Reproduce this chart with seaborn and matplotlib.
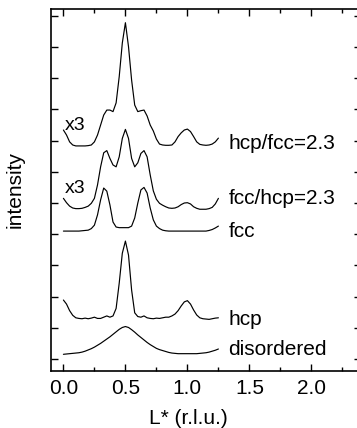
import numpy as np
import pandas as pd
import matplotlib
matplotlib.use("Agg")
import matplotlib.pyplot as plt
import seaborn as sns
from matplotlib.ticker import MultipleLocator, FormatStrFormatter

# L* grid (r.l.u.), 0.025 steps from 0 to 1.25
L = np.round(np.arange(51) * 0.025, 3)

# Stacked, offset intensity profiles (arbitrary units)
hcp_fcc_2p3 = [7.34, 7.18, 6.96, 6.86, 6.83, 6.83, 6.83, 6.83, 6.84, 6.86,
               6.96, 7.18, 7.50, 7.82, 7.98, 7.98, 7.93, 8.21, 9.05, 10.13,
               10.78, 10.01, 8.94, 8.14, 7.93, 7.96, 7.98, 7.79, 7.50, 7.31,
               7.05, 6.89, 6.86, 6.85, 6.85, 6.86, 6.96, 7.13, 7.25, 7.34,
               7.37, 7.29, 7.13, 6.96, 6.88, 6.86, 6.85, 6.86, 6.89, 6.96,
               7.08]
fcc_hcp_2p3 = [5.15, 5.01, 4.90, 4.84, 4.82, 4.82, 4.83, 4.86, 4.90, 4.99,
               5.15, 5.58, 6.16, 6.61, 6.68, 6.43, 6.22, 6.16, 6.48, 7.07,
               7.36, 7.07, 6.43, 6.16, 6.29, 6.59, 6.68, 6.48, 5.90, 5.39,
               5.12, 4.99, 4.93, 4.88, 4.84, 4.83, 4.84, 4.88, 4.95, 5.00,
               5.01, 4.97, 4.88, 4.83, 4.80, 4.80, 4.80, 4.82, 4.86, 4.97,
               5.15]
fcc = [4.10, 4.10, 4.10, 4.10, 4.10, 4.10, 4.11, 4.12, 4.13, 4.18,
       4.29, 4.62, 5.10, 5.48, 5.38, 4.94, 4.39, 4.23, 4.21, 4.21,
       4.21, 4.21, 4.26, 4.52, 5.00, 5.42, 5.50, 5.32, 4.84, 4.46,
       4.26, 4.18, 4.13, 4.11, 4.10, 4.10, 4.10, 4.10, 4.10, 4.10,
       4.10, 4.10, 4.10, 4.10, 4.10, 4.10, 4.10, 4.12, 4.15, 4.20,
       4.26]
hcp = [1.89, 1.76, 1.55, 1.40, 1.32, 1.30, 1.29, 1.31, 1.29, 1.31,
       1.34, 1.30, 1.30, 1.34, 1.38, 1.34, 1.38, 1.62, 2.43, 3.39,
       3.78, 3.33, 2.21, 1.48, 1.36, 1.34, 1.38, 1.32, 1.30, 1.29,
       1.31, 1.30, 1.32, 1.34, 1.34, 1.38, 1.44, 1.55, 1.70, 1.83,
       1.87, 1.76, 1.57, 1.41, 1.32, 1.29, 1.28, 1.27, 1.29, 1.31,
       1.32]
disordered = [0.15, 0.16, 0.17, 0.18, 0.19, 0.20, 0.22, 0.25, 0.29, 0.33,
              0.38, 0.44, 0.50, 0.57, 0.64, 0.71, 0.79, 0.87, 0.95, 1.01,
              1.04, 1.01, 0.94, 0.86, 0.77, 0.69, 0.61, 0.53, 0.46, 0.40,
              0.34, 0.30, 0.27, 0.24, 0.21, 0.19, 0.18, 0.17, 0.17, 0.17,
              0.17, 0.17, 0.17, 0.17, 0.18, 0.19, 0.20, 0.22, 0.25, 0.28,
              0.32]

curve_names = ["hcp/fcc=2.3", "fcc/hcp=2.3", "fcc", "hcp", "disordered"]
curve_values = [hcp_fcc_2p3, fcc_hcp_2p3, fcc, hcp, disordered]
label_y = [6.92, 5.16, 4.10, 1.28, 0.29]
scale_notes = ["x3", "x3"]
scale_note_y = [7.50, 5.45]

sns.set_theme(style="ticks")
plt.rcParams["font.family"] = ["Liberation Sans", "DejaVu Sans"]
plt.rcParams.update({
    "text.color": "black",
    "axes.labelcolor": "black",
    "axes.edgecolor": "black",
    "xtick.color": "black",
    "ytick.color": "black",
    "xtick.labelcolor": "black",
})

fig = plt.figure(figsize=(3.57, 4.28), dpi=100)
ax = fig.add_axes([0.1429, 0.1332, 0.8683, 0.8458])

df = pd.concat(
    [pd.DataFrame({"L": L, "I": v, "curve": n}) for n, v in zip(curve_names, curve_values)],
    ignore_index=True,
)
for name in curve_names:
    sub = df[df["curve"] == name]
    sns.lineplot(data=sub, x="L", y="I", color="black", linewidth=0.85, ax=ax,
                 estimator=None, sort=False)

for name, y in zip(curve_names, label_y):
    ax.text(1.33, y, name, fontsize=15, va="center", ha="left", color="black")
for note, y in zip(scale_notes, scale_note_y):
    ax.text(0.015, y, note, fontsize=14, va="center", ha="left", color="black")

ax.set_xlim(-0.1, 2.4)
ax.set_ylim(-0.385, 11.22)
ax.xaxis.set_major_locator(MultipleLocator(0.5))
ax.xaxis.set_minor_locator(MultipleLocator(0.25))
ax.xaxis.set_major_formatter(FormatStrFormatter("%.1f"))
ax.set_yticks(range(0, 12))
ax.set_yticklabels([])

ax.tick_params(which="both", direction="in", top=True, right=True,
               colors="black", width=1.0)
ax.tick_params(which="major", length=5, labelsize=15, pad=6)
ax.tick_params(which="minor", length=3)
for sp in ax.spines.values():
    sp.set_linewidth(1.2)
    sp.set_color("black")

ax.set_xlabel("L* (r.l.u.)", fontsize=15, color="black")
ax.set_ylabel("intensity", fontsize=15, color="black")
ax.xaxis.set_label_coords(0.443, -0.105)
ax.yaxis.set_label_coords(-0.085, 0.5)

fig.savefig("out.png", dpi=100)
